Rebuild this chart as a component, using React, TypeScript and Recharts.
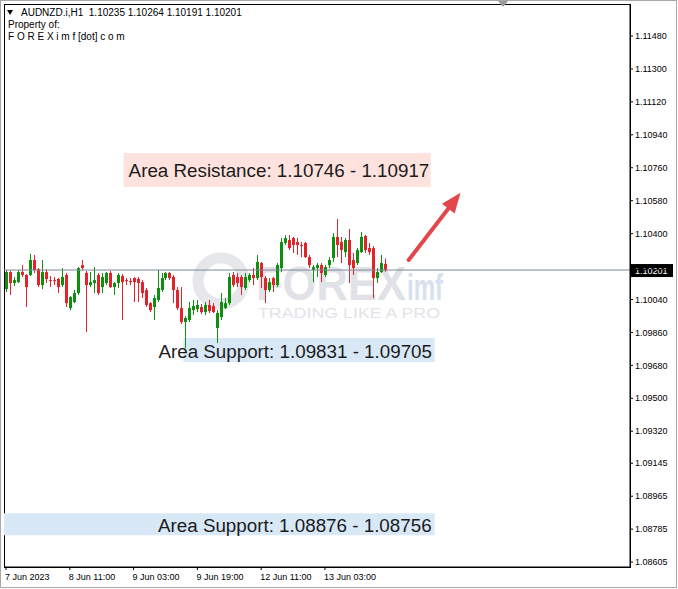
import React from 'react';
import {
	ComposedChart,
	Bar,
	XAxis,
	YAxis,
	ReferenceLine,
	ReferenceArea,
	Customized,
} from 'recharts';

// AUDNZD.i H1 candles (bar 0 = 7 Jun 19:00)
const opens = [
	1.10097, 1.1019, 1.1013, 1.10135, 1.1019, 1.10174, 1.10174, 1.10256, 1.10206, 1.10119,
	1.1019, 1.10146, 1.10146, 1.10152, 1.10119, 1.10174, 1.09993, 1.10026, 1.10075, 1.10228,
	1.10185, 1.10119, 1.1013, 1.10174, 1.10108, 1.1013, 1.10185, 1.10108, 1.1013, 1.10168,
	1.10146, 1.10141, 1.10157, 1.10152, 1.10135, 1.10092, 1.1002, 1.09999, 1.10037, 1.10092,
	1.10157, 1.10185, 1.10163, 1.10092, 1.09993, 1.09917, 1.09928, 1.09982, 1.09988, 1.09999,
	1.09971, 1.1001, 1.10004, 1.09884, 1.09944, 1.09993, 1.1002, 1.10174, 1.10163, 1.10163,
	1.10103, 1.10146, 1.10174, 1.10157, 1.10239, 1.10157, 1.10092, 1.10157, 1.10119, 1.10212,
	1.10349, 1.10365, 1.10376, 1.10354, 1.10338, 1.10349, 1.10272, 1.10201, 1.10212, 1.10228,
	1.10174, 1.10228, 1.10267, 1.10382, 1.10354, 1.10299, 1.10365, 1.10256, 1.10239, 1.10299,
	1.10387, 1.10321, 1.10321, 1.10157, 1.1019, 1.10235,
];
const highs = [
	1.10201, 1.10196, 1.10163, 1.10201, 1.10228, 1.10179, 1.10289, 1.10283, 1.10212, 1.10256,
	1.10206, 1.10168, 1.10163, 1.10157, 1.10212, 1.10185, 1.10059, 1.10092, 1.10217, 1.10256,
	1.10196, 1.1019, 1.10217, 1.10185, 1.10185, 1.1019, 1.10196, 1.10135, 1.10185, 1.10179,
	1.10157, 1.10157, 1.10163, 1.10163, 1.10146, 1.10103, 1.10026, 1.10064, 1.10201, 1.10185,
	1.1019, 1.1019, 1.10174, 1.10108, 1.10108, 1.09949, 1.10026, 1.10037, 1.10037, 1.10015,
	1.10026, 1.10037, 1.1002, 1.09982, 1.10075, 1.10048, 1.10185, 1.1019, 1.10185, 1.10174,
	1.10185, 1.10185, 1.10212, 1.10283, 1.10245, 1.10168, 1.10157, 1.10163, 1.10239, 1.10376,
	1.10392, 1.10392, 1.10382, 1.10376, 1.10354, 1.10354, 1.10283, 1.10228, 1.10239, 1.10239,
	1.10228, 1.10272, 1.10403, 1.1048, 1.10382, 1.10376, 1.10425, 1.10294, 1.10321, 1.10409,
	1.10392, 1.10349, 1.10332, 1.10212, 1.10283, 1.10264,
];
const lows = [
	1.10081, 1.10064, 1.10113, 1.1013, 1.10163, 1.09999, 1.10168, 1.10185, 1.10108, 1.10097,
	1.1013, 1.10108, 1.10119, 1.10075, 1.10108, 1.09999, 1.09982, 1.1002, 1.10064, 1.10201,
	1.09862, 1.10108, 1.10075, 1.10064, 1.10075, 1.10119, 1.10103, 1.10064, 1.10103, 1.09928,
	1.10119, 1.10119, 1.10026, 1.10026, 1.10048, 1.09999, 1.09971, 1.09928, 1.10026, 1.10081,
	1.10146, 1.10146, 1.1002, 1.09982, 1.09906, 1.09774, 1.09917, 1.09955, 1.09971, 1.0996,
	1.09955, 1.09966, 1.09966, 1.09802, 1.09928, 1.09988, 1.1001, 1.10108, 1.10108, 1.10064,
	1.10092, 1.10135, 1.10119, 1.10146, 1.10103, 1.1002, 1.10081, 1.10081, 1.10108, 1.1019,
	1.10338, 1.1031, 1.10294, 1.10283, 1.10272, 1.10267, 1.10212, 1.10135, 1.10163, 1.10135,
	1.10163, 1.10212, 1.10245, 1.10272, 1.10239, 1.10272, 1.1013, 1.10174, 1.10228, 1.10294,
	1.10294, 1.10283, 1.10048, 1.1013, 1.10185, 1.10191,
];
const closes = [
	1.1019, 1.1013, 1.10146, 1.1019, 1.10174, 1.10108, 1.10256, 1.10201, 1.10119, 1.1019,
	1.10152, 1.10141, 1.10141, 1.10108, 1.10163, 1.1002, 1.10053, 1.10075, 1.10212, 1.10212,
	1.10119, 1.10135, 1.10146, 1.10075, 1.10163, 1.10185, 1.10108, 1.1013, 1.10174, 1.10135,
	1.10141, 1.10135, 1.10135, 1.1013, 1.10075, 1.1001, 1.09982, 1.10048, 1.10103, 1.10157,
	1.10185, 1.10157, 1.10092, 1.09993, 1.09917, 1.09939, 1.09993, 1.10004, 1.1001, 1.09971,
	1.1001, 1.09977, 1.09971, 1.09966, 1.10026, 1.1002, 1.10163, 1.10119, 1.1013, 1.10108,
	1.10163, 1.10174, 1.10157, 1.10245, 1.10163, 1.10092, 1.10135, 1.10119, 1.10228, 1.10354,
	1.10376, 1.10321, 1.10338, 1.10338, 1.10335, 1.10272, 1.10228, 1.10217, 1.10228, 1.10185,
	1.10217, 1.10256, 1.10382, 1.10338, 1.1031, 1.10365, 1.10228, 1.10212, 1.1031, 1.10382,
	1.1031, 1.10299, 1.10157, 1.1019, 1.10239, 1.10201,
];

const timeTicks = [0, 16, 32, 48, 64, 80];
const timeLabels = ['7 Jun 2023', '8 Jun 11:00', '9 Jun 03:00', '9 Jun 19:00', '12 Jun 11:00', '13 Jun 03:00'];
const priceTicks = [
	1.1148, 1.113, 1.1112, 1.1094, 1.1076, 1.1058, 1.104, 1.1022, 1.1004, 1.0986,
	1.0968, 1.095, 1.0932, 1.09145, 1.08965, 1.08785, 1.08605,
];
const priceDomain = [1.08578, 1.11655];
const lastPrice = 1.10201;

const resistanceZone = [1.10655, 1.10841];
const supportZone1 = [1.09698, 1.09829];
const supportZone2 = [1.08751, 1.08872];
const arrowFrom = { x: 101, y: 1.10256 };
const arrowTo = { x: 114, y: 1.10623 };

// empty slots to the right of the last bar (chart shift)
const SLOTS = 157;

const data = Array.from({ length: SLOTS }, (_, i) =>
	i < opens.length
		? { i, open: opens[i], high: highs[i], low: lows[i], close: closes[i], range: [lows[i], highs[i]] }
		: { i, range: null }
);

const GREEN = '#0e8f10';
const RED = '#e3222b';
const FONT = '"Liberation Sans", Arial, sans-serif';

const Candle = (props: any) => {
	const { x, y, width, height, payload } = props;
	if (!payload || payload.open == null) return null;
	const { open, close, high, low } = payload;
	const top = Math.min(y, y + height);
	const h = Math.abs(height);
	const k = high - low > 0 ? h / (high - low) : 0;
	const py = (p: number) => top + (high - p) * k;
	const cx = Math.round(x + width / 2) + 0.5;
	const color = close >= open ? GREEN : RED;
	const bTop = py(Math.max(open, close));
	const bBot = py(Math.min(open, close));
	return (
		<g>
			<line x1={cx} x2={cx} y1={top} y2={top + h} stroke={color} strokeWidth={1} />
			<rect x={cx - 1.5} y={bTop} width={3} height={Math.max(1, bBot - bTop)} fill={color} />
		</g>
	);
};

const TimeTick = (props: any) => {
	const { x, y, payload } = props;
	const idx = timeTicks.indexOf(payload.value);
	return (
		<text x={x - 1} y={y + 8} fontSize={9} fontFamily={FONT} fill="#000" textAnchor="start">
			{timeLabels[idx]}
		</text>
	);
};

const zoneLabel = (text: string, dx: number) => (props: any) => {
	const vb = props.viewBox || {};
	return (
		<text
			x={vb.x + dx}
			y={vb.y + vb.height / 2 + 1}
			fontSize={18.8}
			fontFamily={FONT}
			fill="#1b1b1b"
			dominantBaseline="central"
		>
			{text}
		</text>
	);
};

const priceTag = (props: any) => {
	const vb = props.viewBox || {};
	const x = vb.x + vb.width + 1;
	const y = vb.y;
	return (
		<g>
			<rect x={x} y={y - 6} width={42} height={13} fill="#000" />
			<text x={x + 4} y={y + 0.5} fontSize={9} fontFamily={FONT} fill="#fff" dominantBaseline="central">
				{lastPrice.toFixed(5)}
			</text>
		</g>
	);
};

const Arrow = (props: any) => {
	const { x1, y1, x2, y2 } = props;
	const ang = Math.atan2(y2 - y1, x2 - x1);
	const len = 20;
	const half = 8;
	const bx = x2 - Math.cos(ang) * len;
	const by = y2 - Math.sin(ang) * len;
	const nx = -Math.sin(ang) * half;
	const ny = Math.cos(ang) * half;
	return (
		<g>
			<line x1={x1} y1={y1} x2={bx + Math.cos(ang) * 3} y2={by + Math.sin(ang) * 3} stroke="#e2474b" strokeWidth={4} strokeLinecap="round" />
			<polygon points={`${x2},${y2} ${bx + nx},${by + ny} ${bx - nx},${by - ny}`} fill="#e2474b" />
		</g>
	);
};

const Watermark = () => (
	<g>
		<circle cx={221} cy={281} r={23} fill="none" stroke="#e6e7eb" strokeWidth={11} />
		<text x={256} y={300} fontSize={48} fontWeight="bold" fontFamily={FONT} fill="#e1e2e7" textLength={150} lengthAdjust="spacingAndGlyphs">
			FOREX
		</text>
		<text x={407} y={300} fontSize={36} fontWeight="bold" fontFamily={FONT} fill="#d6e1f0" textLength={36} lengthAdjust="spacingAndGlyphs">
			imf
		</text>
		<text x={258} y={318} fontSize={15} fontFamily={FONT} fill="#e2e3e8" textLength={182} lengthAdjust="spacingAndGlyphs">
			TRADING LIKE A PRO
		</text>
	</g>
);

const Frame = () => (
	<g>
		<rect x={0.5} y={0.5} width={676} height={587} fill="none" stroke="#a8a8a8" />
		<rect x={4.5} y={4.5} width={626} height={563} fill="none" stroke="#000" />
		<polygon points="498,1 508,1 503,7" fill="#9a9a9a" />
		<polygon points="7,10 13,10 10,15" fill="#000" />
		<text x={21} y={16} fontSize={10} fontFamily={FONT} fill="#000">
			AUDNZD.i,H1{'\u00a0\u00a0'}1.10235 1.10264 1.10191 1.10201
		</text>
		<text x={8} y={28} fontSize={10} fontFamily={FONT} fill="#000">
			Property of:
		</text>
		<text x={8} y={40} fontSize={10} fontFamily={FONT} fill="#000">
			F O R E X i m f [dot] c o m
		</text>
	</g>
);

export default function App() {
	return (
		<div style={{ position: 'absolute', left: 0, top: 0, background: '#fff' }}>
			<ComposedChart
				width={678}
				height={589}
				data={data}
				margin={{ top: 4, right: 0, left: 4, bottom: 0 }}
				barCategoryGap={0}
			>
				<Customized component={<Watermark />} />
				<XAxis
					dataKey="i"
					type="category"
					ticks={timeTicks}
					interval={0}
					height={22}
					tick={<TimeTick />}
					tickSize={3}
					tickLine={{ stroke: '#000' }}
					axisLine={{ stroke: '#000' }}
				/>
				<YAxis
					orientation="right"
					type="number"
					domain={priceDomain}
					ticks={priceTicks}
					allowDataOverflow
					width={48}
					tickSize={3}
					tickMargin={2}
					tickFormatter={(v: number) => v.toFixed(5)}
					tick={{ fontSize: 9, fill: '#000', fontFamily: FONT }}
					tickLine={{ stroke: '#000' }}
					axisLine={{ stroke: '#000' }}
				/>
				<ReferenceArea
					x1={30}
					x2={106}
					y1={resistanceZone[0]}
					y2={resistanceZone[1]}
					fill="#fde2de"
					fillOpacity={1}
					stroke="none"
					label={zoneLabel('Area Resistance: 1.10746 - 1.10917', 5)}
				/>
				<ReferenceArea
					x1={45}
					x2={107}
					y1={supportZone1[0]}
					y2={supportZone1[1]}
					fill="#d9e8f6"
					fillOpacity={1}
					stroke="none"
					label={zoneLabel('Area Support: 1.09831 - 1.09705', -25)}
				/>
				<ReferenceArea
					x2={107}
					y1={supportZone2[0]}
					y2={supportZone2[1]}
					fill="#d9e8f6"
					fillOpacity={1}
					stroke="none"
					label={zoneLabel('Area Support: 1.08876 - 1.08756', 154)}
				/>
				<ReferenceLine y={lastPrice} stroke="#7a8896" strokeWidth={1} label={priceTag} />
				<Bar dataKey="range" shape={<Candle />} isAnimationActive={false} />
				<ReferenceLine
					segment={[arrowFrom, arrowTo]}
					ifOverflow="visible"
					shape={<Arrow />}
				/>
				<Customized component={<Frame />} />
			</ComposedChart>
		</div>
	);
}
